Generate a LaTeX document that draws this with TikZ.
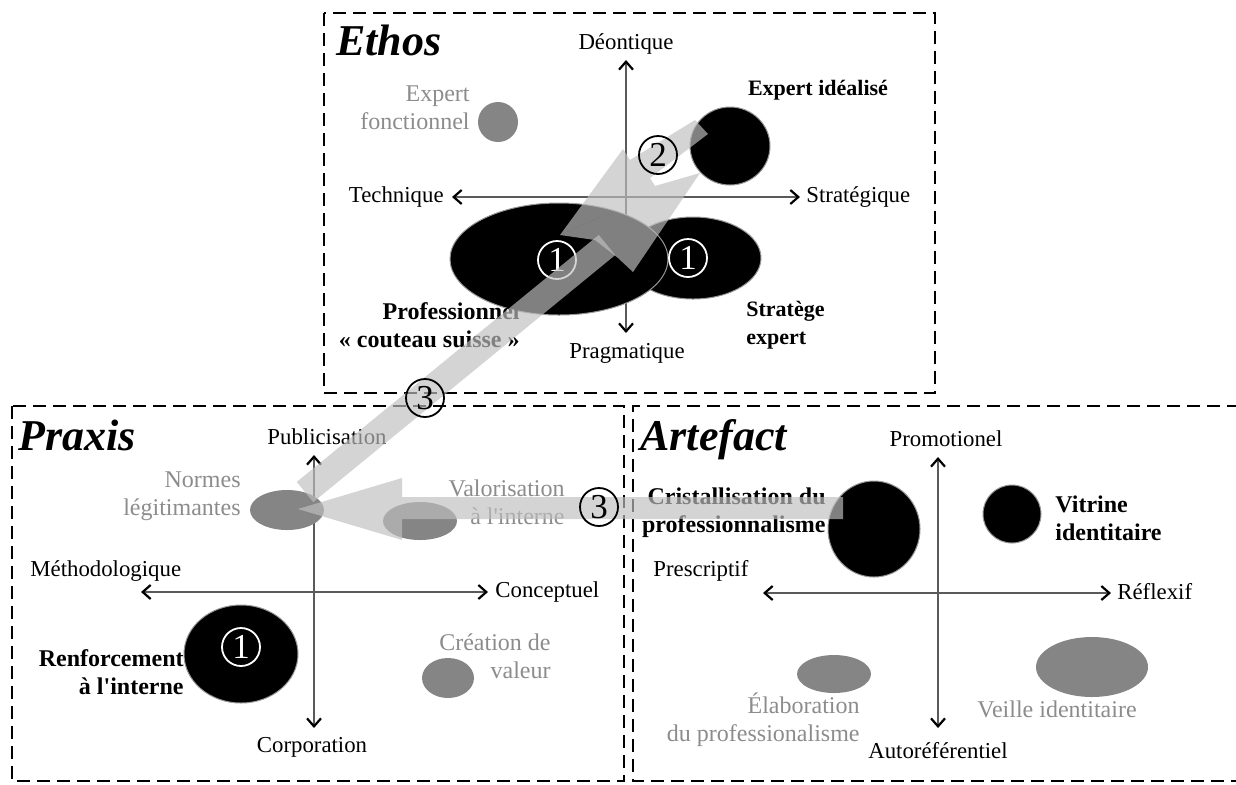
\documentclass[tikz,border=0pt]{standalone}
\usepackage{fontspec}
\setmainfont{Liberation Serif}
\usetikzlibrary{shapes.geometric,arrows.meta,calc}

\definecolor{axisgray}{RGB}{90,90,90}
\definecolor{blobgray}{RGB}{133,133,133}
\definecolor{softtext}{RGB}{140,140,140}
\definecolor{bandgray}{RGB}{191,191,191}
\definecolor{rimgray}{RGB}{150,150,150}

\newcommand{\apos}{\textquotesingle}

\tikzset{
  frame/.style={draw=black, line width=0.75pt, dash pattern=on 6.5pt off 3.5pt},
  axis/.style={draw=axisgray, line width=0.7pt,
    arrows={Straight Barb[color=black,length=4pt,width=7pt,line width=1.1pt]-Straight Barb[color=black,length=4pt,width=7pt,line width=1.1pt]}},
  blob/.style={ellipse, inner sep=0pt, fill=blobgray},
  darkblob/.style={ellipse, inner sep=0pt, fill=black, draw=rimgray, line width=0.5pt},
  lbl/.style={font=\fontsize{11.4}{14}\selectfont, inner sep=0pt},
  soft/.style={inner sep=0pt, text=softtext, font=\fontsize{12}{14}\selectfont},
  strong/.style={inner sep=0pt, font=\fontsize{12}{14}\selectfont\bfseries},
  strongsmall/.style={inner sep=0pt, font=\fontsize{11}{14}\selectfont\bfseries},
  title/.style={inner sep=0pt, font=\fontsize{22}{22}\selectfont\bfseries\itshape},
  num/.style={circle, draw, line width=0.9pt, minimum size=19pt, inner sep=0pt,
    font=\fontsize{17.5}{17.5}\selectfont},
  whitenum/.style={num, draw=white, text=white},
  band/.style={fill=bandgray, fill opacity=0.67},
  bandline/.style={draw=bandgray, draw opacity=0.67, line width=13pt},
}

\begin{document}
\begin{tikzpicture}[x=0.5pt,y=-0.5pt]
\useasboundingbox (0,0) rectangle (1236,784);

% ---------- panel frames ----------
\draw[frame] (324,13) rectangle (935,393);
\draw[frame] (12,406) rectangle (624,781);
\draw[frame] (1240,406) -- (633,406) -- (633,781) -- (1240,781);

% ---------- Ethos ----------
\node[title, anchor=west] (ethos) at (336,40) {Ethos};
\node[lbl] (deon) at (626,44) {Déontique};
\node[lbl] (prag) at (627,353) {Pragmatique};
\node[lbl, anchor=east] (tech) at (444,197) {Technique};
\node[lbl, anchor=west] (strat) at (806,197) {Stratégique};
\coordinate (eN) at (626,60);  \coordinate (eS) at (626,333);
\coordinate (eW) at (452,197); \coordinate (eE) at (800,197);
\draw[axis] (eS) -- (eN);
\draw[axis] (eW) -- (eE);

\node[blob, minimum width=20pt, minimum height=20pt] (fonct) at (498,122) {};
\node[darkblob, minimum width=40pt, minimum height=39pt] (ideal) at (730,146) {};
\node[darkblob, minimum width=68pt, minimum height=41pt] (stratege) at (693,258) {};
\node[darkblob, minimum width=109pt, minimum height=56pt] (couteau) at (559,259) {};

\node[soft, anchor=east, align=right] (fonctlbl) at (470,108) {Expert\\fonctionnel};
\node[strongsmall] (ideallbl) at (818,90) {Expert idéalisé};
\node[strong, anchor=east, align=right] (couteaulbl) at (520,325) {Professionnel\\« couteau suisse »};
\node[strongsmall, anchor=west, align=left] (strategelbl) at (746,325) {Stratège\\expert};

\node[whitenum] (n1a) at (557,260) {1};
\node[whitenum] (n1b) at (688,258) {1};

% ---------- Praxis ----------
\node[title, anchor=west] (praxis) at (18,435) {Praxis};
\node[lbl] (publ) at (327,437) {Publicisation};
\node[lbl] (corp) at (312,747) {Corporation};
\node[lbl, anchor=west] (metho) at (30,571) {Méthodologique};
\node[lbl, anchor=west] (conc) at (495,592) {Conceptuel};
\coordinate (pN) at (314,455); \coordinate (pS) at (314,728);
\coordinate (pW) at (141,592); \coordinate (pE) at (488,592);
\draw[axis] (pS) -- (pN);
\draw[axis] (pW) -- (pE);

\node[blob, minimum width=37pt, minimum height=20pt] (normes) at (287,510) {};
\node[blob, minimum width=37pt, minimum height=19pt] (valor) at (420,521) {};
\node[darkblob, minimum width=57pt, minimum height=49pt] (renfort) at (241,654) {};
\node[blob, minimum width=26pt, minimum height=20pt] (creation) at (448,678) {};

\node[soft, anchor=east, align=right] (normeslbl) at (241,496) {Normes\\légitimantes};
\node[soft, anchor=east, align=right] (valorlbl) at (565,502) {Valorisation\\à l\apos interne};
\node[strong, anchor=east, align=right] (renfortlbl) at (184,672) {Renforcement\\à l\apos interne};
\node[soft, anchor=east, align=right] (creationlbl) at (551,656) {Création de\\valeur};
\node[whitenum] (n1c) at (241,647) {1};

% ---------- Artefact ----------
\node[title, anchor=west] (artefact) at (640,440) {Artefact};
\node[lbl] (promo) at (946,439) {Promotionel};
\node[lbl] (autoref) at (938,751) {Autoréférentiel};
\node[lbl, anchor=west] (presc) at (653,571) {Prescriptif};
\node[lbl, anchor=west] (reflex) at (1117,592) {Réflexif};
\coordinate (aN) at (938,457); \coordinate (aS) at (938,728);
\coordinate (aW) at (763,593); \coordinate (aE) at (1111,593);
\draw[axis] (aS) -- (aN);
\draw[axis] (aW) -- (aE);

\node[darkblob, minimum width=46pt, minimum height=48pt] (crist) at (874,529) {};
\node[darkblob, minimum width=29pt, minimum height=29pt] (vitrine) at (1012,514) {};
\node[blob, minimum width=37pt, minimum height=19pt] (elab) at (834,674) {};
\node[blob, minimum width=56pt, minimum height=30pt] (veille) at (1092,667) {};

\node[strong, anchor=east, align=right] (cristlbl) at (826,513) {Cristallisation du\\professionnalisme};
\node[strong, anchor=west, align=left] (vitrinelbl) at (1055,518) {Vitrine\\identitaire};
\node[soft, anchor=east, align=right] (elablbl) at (860,720) {Élaboration\\du professionalisme};
\node[soft] (veillelbl) at (1057,709) {Veille identitaire};

% ---------- translucent transition arrows ----------
% (2) towards the idealised expert
\fill[band] (560,235) -- (623,149) -- (630,160) -- (695,120) -- (708,134)
  -- (650,178) -- (655,186) -- (700,173) -- cycle;
\fill[band] (560,235) -- (700,173) -- (633,272) -- (618,258) -- (595,240) -- cycle;

% (3) from Ethos down to the legitimising norms
\coordinate (d3a) at (305,492);
\coordinate (d3b) at (607,245);
\draw[bandline] (d3a) -- (d3b);

% (3) from Artefact to the legitimising norms
\coordinate (h3tail) at (843,508);
\coordinate (h3tip) at (298,509);
\fill[band] (h3tip) -- ($(h3tip)+(104,-31)$) -- ($(h3tip)+(104,-12)$)
  -- ($(h3tail)+(0,-11)$) -- ($(h3tail)+(0,11)$)
  -- ($(h3tip)+(104,10)$) -- ($(h3tip)+(104,31)$) -- cycle;

\node[num] (n2) at (658,155) {2};
\node[num] (n3a) at (425,398) {3};
\node[num] (n3b) at (599,507) {3};
\end{tikzpicture}
\end{document}
